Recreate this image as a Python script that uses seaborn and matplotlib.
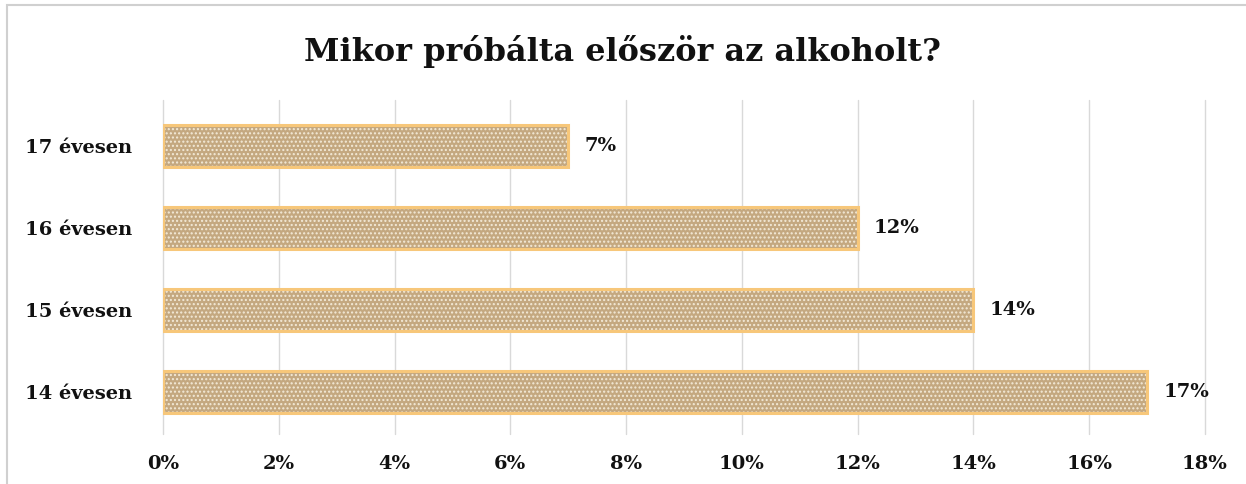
import pandas as pd
import matplotlib
matplotlib.use("Agg")
import matplotlib.pyplot as plt
import seaborn as sns
from matplotlib.patches import Rectangle
from matplotlib.ticker import FuncFormatter

# -------------------------
# Data
# -------------------------
ages = ["17 évesen", "16 évesen", "15 évesen", "14 évesen"]
shares = [7, 12, 14, 17]
x_ticks = [0, 2, 4, 6, 8, 10, 12, 14, 16, 18]

df = pd.DataFrame({"age": ages, "share": shares})

sns.set_theme(style="white")
plt.rcParams["font.family"] = ["DejaVu Serif"]

fig = plt.figure(figsize=(12.46, 4.84), dpi=100)
ax = fig.add_axes([163 / 1246, 1 - 434 / 484, (1205 - 163) / 1246, (434 - 100) / 484])

# tan textured bars (hatch approximates the speckled fill)
sns.barplot(data=df, x="share", y="age", orient="h", ax=ax,
            color="#c4a880", saturation=1, width=0.51, zorder=2)
for p in ax.patches:
    p.set_hatch("....")
    p.set_edgecolor("#f3ead8")
    p.set_linewidth(0)

# orange outline on top
sns.barplot(data=df, x="share", y="age", orient="h", ax=ax,
            fill=False, edgecolor="#f7c77a", linewidth=2.2, width=0.51, zorder=3)

for i, v in enumerate(shares):
    ax.text(v + 0.28, i, f"{v}%", va="center", ha="left",
            fontsize=14, fontweight="bold", color="#111111")

ax.set_xlim(0, 18)
ax.set_ylim(3.51, -0.56)
ax.set_xticks(x_ticks)
ax.xaxis.set_major_formatter(FuncFormatter(lambda v, _: f"{v:.0f}%"))
ax.grid(axis="x", color="#d9d9d9", linewidth=1, zorder=0)
ax.grid(axis="y", visible=False)
for gl in ax.get_xgridlines():
    gl.set_clip_on(False)
ax.set_axisbelow(True)
for s in ax.spines.values():
    s.set_visible(False)
ax.set_xlabel("")
ax.set_ylabel("")
ax.tick_params(axis="x", length=0, pad=15, labelsize=14)
ax.tick_params(axis="y", length=0, pad=22, labelsize=14)
for lbl in ax.get_xticklabels() + ax.get_yticklabels():
    lbl.set_fontweight("bold")
    lbl.set_color("#111111")

fig.text(0.5, 1 - 52 / 484, "Mikor próbálta először az alkoholt?",
         ha="center", va="center", fontsize=23, fontweight="bold", color="#111111")

# outer chart border
fig.patches.append(Rectangle((7 / 1246, -0.1), 1.2, 1 - 5 / 484 + 0.1,
                             transform=fig.transFigure, fill=False,
                             edgecolor="#d0d0d0", linewidth=1.5))

fig.savefig("out.png", dpi=100)
